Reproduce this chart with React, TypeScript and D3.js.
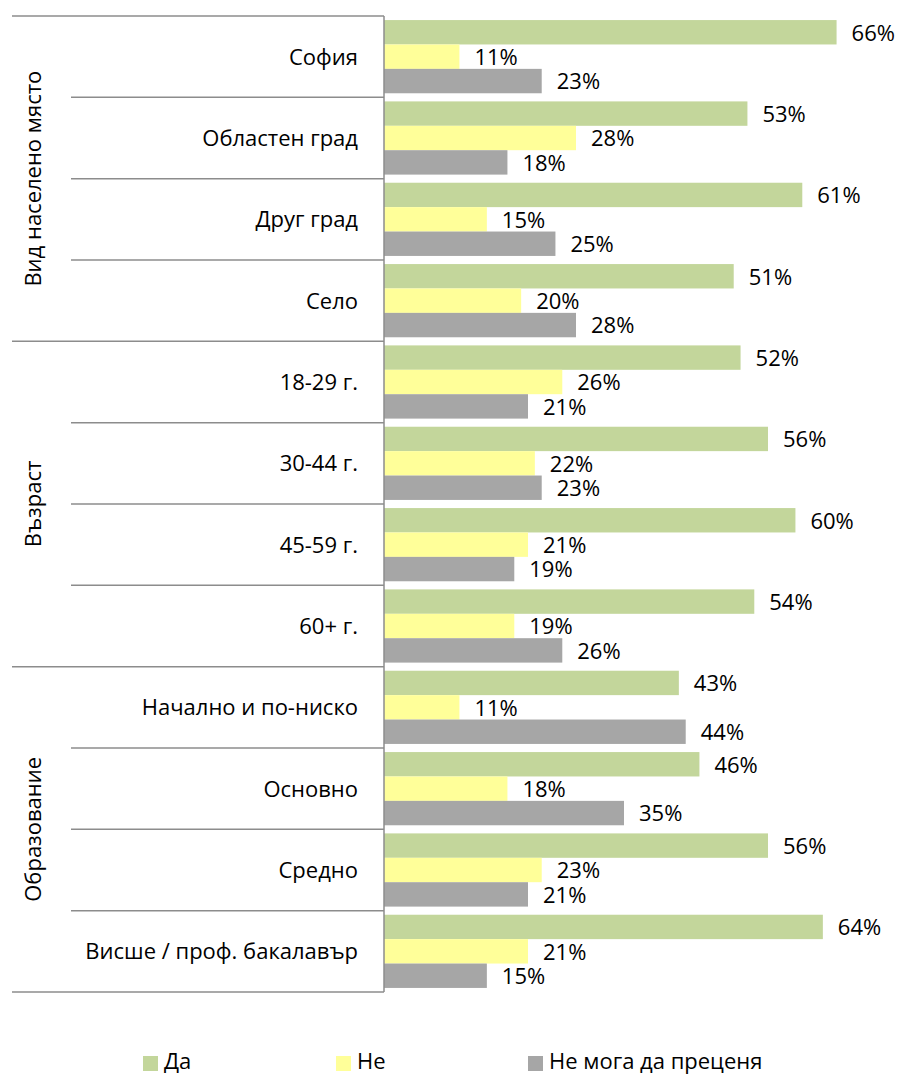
import * as d3 from 'd3';

const categories = [
  "София", "Областен град", "Друг град", "Село",
  "18-29 г.", "30-44 г.", "45-59 г.", "60+ г.",
  "Начално и по-ниско", "Основно", "Средно", "Висше / проф. бакалавър"
];
const groups = ["Вид населено място", "Възраст", "Образование"];
const groupSize = 4;

const seriesNames = ["Да", "Не", "Не мога да преценя"];
const yes = [66, 53, 61, 51, 52, 56, 60, 54, 43, 46, 56, 64];
const no = [11, 28, 15, 20, 26, 22, 21, 19, 11, 18, 23, 21];
const cantSay = [23, 18, 25, 28, 21, 23, 19, 26, 44, 35, 21, 15];
const seriesValues = [yes, no, cantSay];
const colors = ["#C3D69B", "#FFFF99", "#A6A6A6"];

const W = 903;
const H = 1075;
const axisX = 384;
const top = 16;
const bottom = 992;
const font = "'Open Sans', sans-serif";
const fs = 22;

export default function App() {
  const x = d3.scaleLinear().domain([0, 70]).range([axisX, axisX + 480]);
  const y = d3.scaleBand().domain(categories).range([top, bottom]).paddingInner(0.1).paddingOuter(0.05);
  const yc = d3.scaleBand().domain(categories).range([top, bottom]);
  const inner = d3.scaleBand().domain(seriesNames).range([0, y.bandwidth()]);
  const step = yc.step();
  const legendX = [143, 336, 528];

  return (
    <svg width={W} height={H} style={{ position: 'absolute', left: 0, top: 0, fontFamily: font }}>
      <rect width={W} height={H} fill="#fff" />
      {/* bars */}
      {categories.map((c, i) => (
        <g key={c}>
          {seriesNames.map((s, j) => {
            const v = seriesValues[j][i];
            const by = (y(c) as number) + (inner(s) as number);
            return (
              <g key={s}>
                <rect x={x(0)} y={by} width={x(v) - x(0)} height={inner.bandwidth()} fill={colors[j]} />
                <text x={x(v) + 15} y={by + inner.bandwidth() / 2} dy="0.38em" fontSize={fs} fill="#000">{v}%</text>
              </g>
            );
          })}
        </g>
      ))}
      {/* category separators and labels */}
      {categories.map((c, i) => (
        <g key={'l' + c}>
          <text x={358} y={(yc(c) as number) + step / 2} dy="0.37em" textAnchor="end" fontSize={fs} fill="#000">{c}</text>
          {i > 0 && (
            <line x1={i % groupSize === 0 ? 12 : 71} x2={axisX} y1={yc(c)} y2={yc(c)} stroke="#8C8C8C" strokeWidth={1.5} />
          )}
        </g>
      ))}
      <line x1={12} x2={axisX} y1={top} y2={top} stroke="#8C8C8C" strokeWidth={1.5} />
      <line x1={12} x2={axisX} y1={bottom} y2={bottom} stroke="#8C8C8C" strokeWidth={1.5} />
      <line x1={axisX} x2={axisX} y1={top} y2={bottom} stroke="#8C8C8C" strokeWidth={1.5} />
      {/* group labels */}
      {groups.map((g, k) => {
        const cy = top + step * groupSize * (k + 0.5);
        return (
          <text key={g} transform={`translate(33,${cy}) rotate(-90)`} textAnchor="middle" dy="0.36em" fontSize={fs} fill="#000">{g}</text>
        );
      })}
      {/* legend */}
      {seriesNames.map((s, j) => (
        <g key={'lg' + s}>
          <rect x={legendX[j]} y={1056} width={15} height={15} fill={colors[j]} />
          <text x={legendX[j] + 21} y={1061} dy="0.36em" fontSize={fs} fill="#000">{s}</text>
        </g>
      ))}
    </svg>
  );
}
